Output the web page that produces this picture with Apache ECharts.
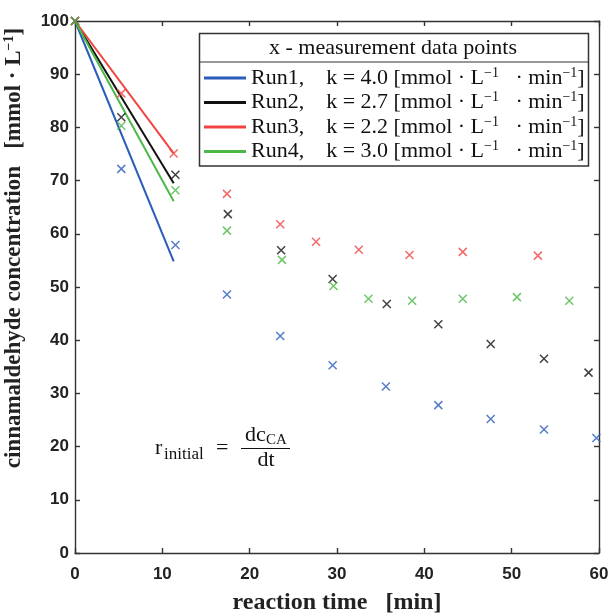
<!DOCTYPE html>
<html>
<head>
<meta charset="utf-8">
<script src="https://cdn.jsdelivr.net/npm/echarts@6/dist/echarts.min.js"></script>
<style>
html,body{margin:0;padding:0;background:#fff;}
#chart{width:611px;height:616px;}
</style>
</head>
<body>
<div id="chart"></div>
<script>
// ---- data ----
const runNames = ['Run1', 'Run2', 'Run3', 'Run4'];
const kValues = ['4.0', '2.7', '2.2', '3.0'];
const runColors = ['#2b5cba', '#111111', '#f04444', '#4cb848'];

const runTimes1 = [0, 5.3, 11.5, 17.4, 23.5, 29.5, 35.6, 41.6, 47.6, 53.7, 59.7];
const runValues1 = [100, 72.2, 57.9, 48.6, 40.8, 35.3, 31.3, 27.8, 25.2, 23.2, 21.6];
const runTimes2 = [0, 5.3, 11.5, 17.5, 23.6, 29.5, 35.7, 41.6, 47.6, 53.7, 58.8];
const runValues2 = [100, 81.9, 71.1, 63.7, 56.9, 51.5, 46.8, 43.0, 39.3, 36.5, 33.9];
const runTimes3 = [0, 5.3, 11.3, 17.4, 23.5, 27.6, 32.5, 38.3, 44.4, 53.0];
const runValues3 = [100, 86.4, 75.1, 67.5, 61.8, 58.5, 57.0, 56.0, 56.6, 55.9];
const runTimes4 = [0, 5.3, 11.5, 17.4, 23.7, 29.6, 33.6, 38.6, 44.4, 50.6, 56.6];
const runValues4 = [100, 80.3, 68.2, 60.6, 55.1, 50.2, 47.8, 47.4, 47.8, 48.1, 47.4];

const fitTimes = [0, 11.3];
const fitValues1 = [100, 54.8];
const fitValues2 = [100, 69.5];
const fitValues3 = [100, 75.1];
const fitValues4 = [100, 66.1];

const xTicks = [0, 10, 20, 30, 40, 50, 60];
const yTicks = [0, 10, 20, 30, 40, 50, 60, 70, 80, 90, 100];

// ---- build ----
const runTimes = [runTimes1, runTimes2, runTimes3, runTimes4];
const runValues = [runValues1, runValues2, runValues3, runValues4];
const fitValues = [fitValues1, fitValues2, fitValues3, fitValues4];
const zip = (a, b) => a.map((v, i) => [v, b[i]]);

const crossPath = 'path://M0,0L10,10M10,0L0,10';
const serif = '"Liberation Serif", "Times New Roman", serif';
const sans = '"Liberation Sans", Arial, sans-serif';

const series = [];
runNames.forEach((name, i) => {
  series.push({
    name: name,
    type: 'line',
    data: zip(fitTimes, fitValues[i]),
    showSymbol: false,
    symbol: 'none',
    lineStyle: { color: runColors[i], width: 2 },
    itemStyle: { color: runColors[i] },
    z: 3
  });
});
runNames.forEach((name, i) => {
  series.push({
    name: name + ' data',
    type: 'scatter',
    data: zip(runTimes[i], runValues[i]),
    symbol: crossPath,
    symbolSize: 8,
    clip: false,
    itemStyle: { color: runColors[i], borderColor: runColors[i], borderWidth: 1.5 },
    z: 4
  });
});

const axisCommon = {
  axisLine: { show: true, onZero: false, lineStyle: { color: '#333', width: 1.4 } },
  axisTick: { show: true, inside: true, length: 5, lineStyle: { color: '#333', width: 1.4 } },
  splitLine: { show: false }
};

const option = {
  backgroundColor: '#fff',
  animation: false,
  grid: { left: 75, top: 21, width: 524, height: 532, containLabel: false, outerBoundsMode: 'none' },
  xAxis: [
    Object.assign({
      type: 'value', position: 'bottom', min: 0, max: 60, interval: 10,
      axisLabel: { fontFamily: sans, fontWeight: 'bold', fontSize: 17, color: '#222', margin: 13,
        formatter: v => (xTicks.indexOf(v) >= 0 ? String(v) : '') },
      name: 'reaction time   [min]',
      nameLocation: 'middle',
      nameGap: 38,
      nameTextStyle: { fontFamily: serif, fontWeight: 'bold', fontSize: 24, color: '#222' }
    }, axisCommon),
    Object.assign({
      type: 'value', position: 'top', min: 0, max: 60, interval: 10,
      axisLabel: { show: false }
    }, axisCommon)
  ],
  yAxis: [
    Object.assign({
      type: 'value', position: 'left', min: 0, max: 100, interval: 10,
      axisLabel: { fontFamily: sans, fontWeight: 'bold', fontSize: 17, color: '#222', margin: 6,
        formatter: v => (yTicks.indexOf(v) >= 0 ? String(v) : '') }
    }, axisCommon),
    Object.assign({
      type: 'value', position: 'right', min: 0, max: 100, interval: 10,
      axisLabel: { show: false }
    }, axisCommon)
  ],
  legend: {
    data: runNames,
    orient: 'vertical',
    left: 199,
    top: 61,
    itemWidth: 42,
    itemHeight: 3,
    itemGap: 0.5,
    icon: 'rect',
    selectedMode: false,
    z: 10,
    formatter: name => {
      const k = kValues[runNames.indexOf(name)];
      return name + ',    k = ' + k + ' [mmol · L{sup|−1}   · min{sup|−1}]';
    },
    textStyle: {
      fontFamily: serif, fontSize: 22, color: '#111', lineHeight: 24,
      rich: {
        sup: { fontFamily: serif, fontSize: 14, lineHeight: 14, verticalAlign: 'top', color: '#111' }
      }
    }
  },
  graphic: [
    { type: 'rect', z: 5, shape: { x: 199.5, y: 33.5, width: 389, height: 132.5 },
      style: { fill: '#fff', stroke: '#333', lineWidth: 1.5 } },
    { type: 'line', z: 6, shape: { x1: 199.5, y1: 62, x2: 588.5, y2: 62 },
      style: { stroke: '#333', lineWidth: 1.2 } },
    { type: 'text', z: 7, x: 393, y: 48,
      style: { text: 'x - measurement data points', font: '22px ' + serif, fill: '#111',
        align: 'center', verticalAlign: 'middle' } },
    // y-axis title
    { type: 'text', z: 7, x: 14, y: 248, rotation: Math.PI / 2,
      style: {
        text: 'cinnamaldehyde concentration   [mmol · L{sup|−1}]',
        font: 'bold 23px ' + serif, fill: '#222', align: 'center', verticalAlign: 'middle',
        rich: { sup: { font: 'bold 14px ' + serif, fill: '#222', verticalAlign: 'top', lineHeight: 14 } }
      } },
    // formula r_initial = dc_CA / dt
    { type: 'text', z: 7, x: 155, y: 448,
      style: { text: 'r', font: '22px ' + serif, fill: '#111', align: 'left', verticalAlign: 'middle' } },
    { type: 'text', z: 7, x: 164, y: 455,
      style: { text: 'initial', font: '17px ' + serif, fill: '#111', align: 'left', verticalAlign: 'middle' } },
    { type: 'text', z: 7, x: 216, y: 448,
      style: { text: '=', font: '22px ' + serif, fill: '#111', align: 'left', verticalAlign: 'middle' } },
    { type: 'line', z: 7, shape: { x1: 241, y1: 448.5, x2: 290, y2: 448.5 },
      style: { stroke: '#111', lineWidth: 1 } },
    { type: 'text', z: 7, x: 245, y: 435,
      style: { text: 'dc', font: '22px ' + serif, fill: '#111', align: 'left', verticalAlign: 'middle' } },
    { type: 'text', z: 7, x: 266, y: 440,
      style: { text: 'CA', font: '15px ' + serif, fill: '#111', align: 'left', verticalAlign: 'middle' } },
    { type: 'text', z: 7, x: 266, y: 460,
      style: { text: 'dt', font: '22px ' + serif, fill: '#111', align: 'center', verticalAlign: 'middle' } }
  ],
  series: series
};

const chart = echarts.init(document.getElementById('chart'), null, { renderer: 'canvas' });
chart.setOption(option);
</script>
</body>
</html>
